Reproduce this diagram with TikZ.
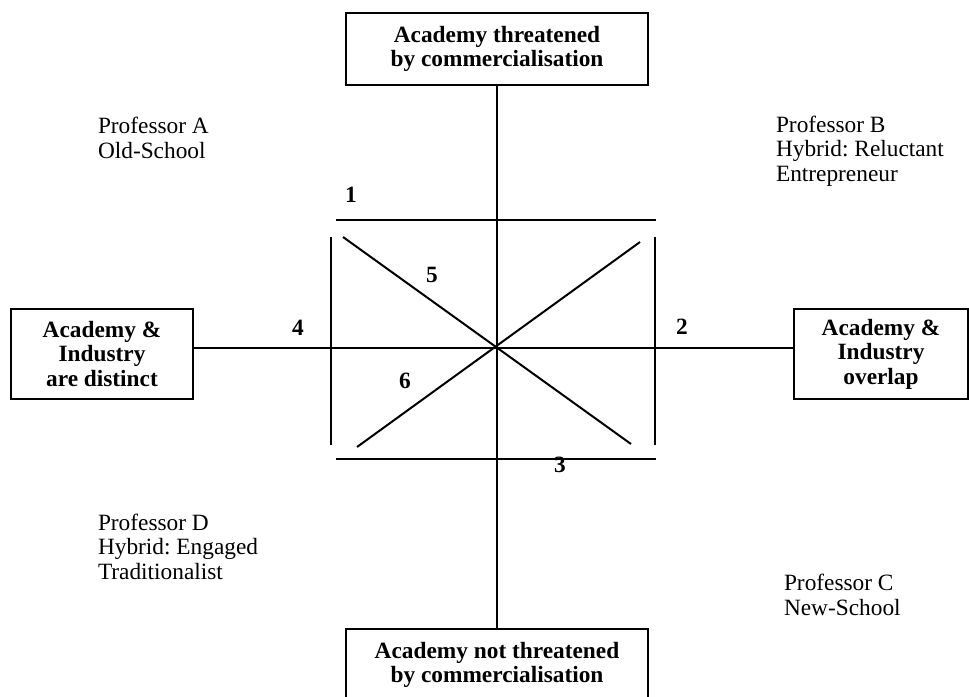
\documentclass[tikz,border=0pt]{standalone}
\usepackage{fontspec}
\setmainfont{Liberation Serif}
\frenchspacing
\begin{document}
\begin{tikzpicture}[x=0.75pt,y=-0.75pt,line width=1.5pt,
  every node/.style={font=\fontsize{17.5}{18.2}\selectfont}]
\tikzset{pole box/.style={draw,align=center,inner sep=0pt,minimum height=#1,
    font=\fontsize{17.5}{18.4}\selectfont\bfseries},
  prof/.style={align=left,anchor=base west,inner sep=0pt},
  num/.style={inner sep=0pt,font=\fontsize{17.5}{18.4}\selectfont\bfseries}}
\useasboundingbox (0,0) rectangle (969,696);
\clip (0,0) rectangle (969,696);

% the four poles
\node [pole box=54pt,minimum width=226.5pt] (T) at (497,49) {Academy threatened\\by commercialisation};
\node [pole box=54pt,minimum width=226.5pt] (B) at (497,665) {Academy not threatened\\by commercialisation};
\node [pole box=67.5pt,minimum width=136.5pt] (L) at (102,354) {Academy \&\\Industry\\are distinct};
\node [pole box=67.5pt,minimum width=130.5pt] (R) at (881,354) {Academy \&\\Industry\\overlap};

\coordinate (O) at (497,348);
\draw (T) -- (B);
\draw (L.east |- O) -- (R.west |- O);

% frame and diagonals
\draw (336,220) -- (656,220) (336,459) -- (656,459);
\draw (331,237) -- (331,445) (655,237) -- (655,445);
\draw (343,237) -- (631,444);
\draw (640,242) -- (357,447);

\node [num] (n1) at (351,195) {1};
\node [num] (n2) at (682,327) {2};
\node [num] (n3) at (560,465) {3};
\node [num] (n4) at (298,328) {4};
\node [num] (n5) at (432,275) {5};
\node [num] (n6) at (405,381) {6};

% the professors (anchored on their last line)
\node [prof] (PA) at (97,158) {Professor A\\Old-School};
\node [prof] (PB) at (775,181) {Professor B\\Hybrid: Reluctant\\Entrepreneur};
\node [prof] (PD) at (97,579) {Professor D\\Hybrid: Engaged\\Traditionalist};
\node [prof] (PC) at (783,615) {Professor C\\New-School};
\end{tikzpicture}
\end{document}
